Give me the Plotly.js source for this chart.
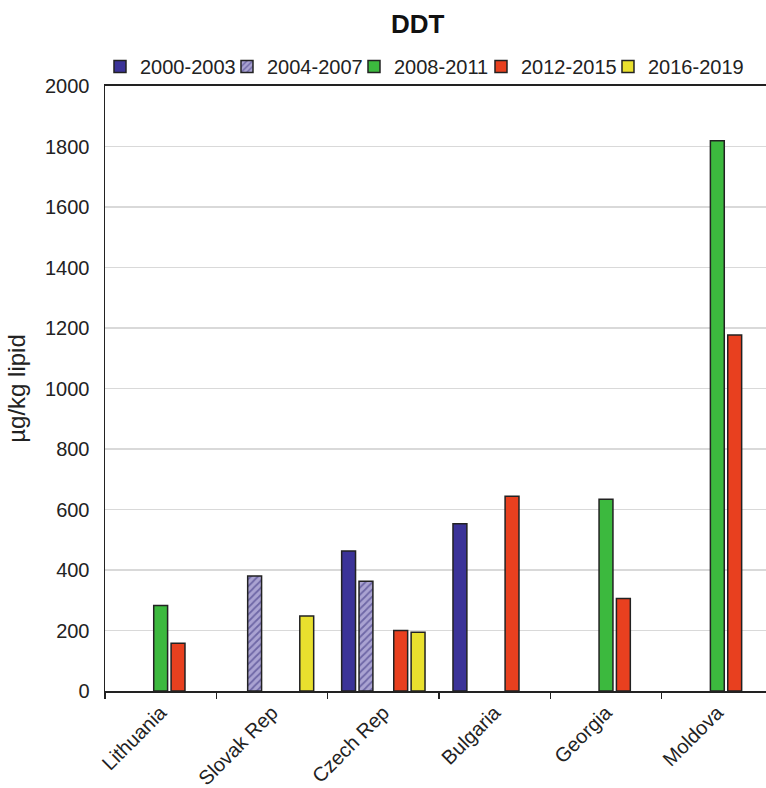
<!DOCTYPE html>
<html>
<head>
<meta charset="utf-8">
<script src="https://cdn.plot.ly/plotly-3.0.1.min.js"></script>
<style>
html,body{margin:0;padding:0;overflow:hidden;background:#fff;}
#chart{width:775px;height:788px;}
</style>
</head>
<body>
<div id="chart"></div>
<script>
const countries = ["Lithuania", "Slovak Rep", "Czech Rep", "Bulgaria", "Georgia", "Moldova"];
const seriesNames = ["2000-2003", "2004-2007", "2008-2011", "2012-2015", "2016-2019"];
const v2000_2003 = [null, null, 463, 553, null, null];
const v2004_2007 = [null, 380, 363, null, null, null];
const v2008_2011 = [283, null, null, null, 634, 1819];
const v2012_2015 = [158, null, 200, 644, 306, 1177];
const v2016_2019 = [null, 248, 194, null, null, null];
const yTicks = [0, 200, 400, 600, 800, 1000, 1200, 1400, 1600, 1800, 2000];

const colors = ["#3b3398", "#aaa3d2", "#3cb93e", "#e8401f", "#e9e02e"];
const values = [v2000_2003, v2004_2007, v2008_2011, v2012_2015, v2016_2019];

const traces = values.map((vals, i) => {
  const marker = {color: colors[i], line: {color: "#222", width: 1.5}};
  if (i === 1) {
    marker.pattern = {shape: "/", bgcolor: "#aaa3d2", fgcolor: "#6e67a6", size: 5, solidity: 0.35, fillmode: "replace"};
  }
  const t = {type: "bar", name: seriesNames[i], x: countries, y: vals, marker: marker, hoverinfo: "skip"};
  if (i === values.length - 1) t.legendwidth = 104;
  return t;
});

const layout = {
  width: 775, height: 788,
  margin: {l: 105, r: 2, t: 86, b: 97},
  paper_bgcolor: "#fff", plot_bgcolor: "#fff",
  font: {family: "Liberation Sans, Arial, sans-serif", size: 20, color: "#222"},
  barmode: "group", bargap: 0.22, bargroupgap: 0.2,
  title: {text: "<b>DDT</b>", font: {size: 26, color: "#111"}, x: 0.468, xref: "paper", xanchor: "center", y: 0.97, yanchor: "middle"},
  showlegend: true,
  legend: {orientation: "h", x: -0.0075, xanchor: "left", y: 1.0, yanchor: "bottom",
           font: {size: 20, color: "#222"}, itemwidth: 30, entrywidth: 82, entrywidthmode: "pixels",
           tracegroupgap: 0, bgcolor: "rgba(0,0,0,0)"},
  xaxis: {type: "category", tickson: "boundaries", ticks: "outside", ticklen: 6, tickwidth: 1.5, tickcolor: "#222",
          showline: true, linecolor: "#222", linewidth: 2, mirror: true, tickangle: -45,
          tickfont: {size: 20}, showgrid: false, range: [-0.5, 5.5]},
  yaxis: {range: [0, 2000], tickvals: yTicks, ticktext: yTicks.map(String), ticks: "", showline: true,
          linecolor: "#222", linewidth: 1.5, mirror: true, showgrid: true, gridcolor: "#d9d9d9", gridwidth: 1.5,
          tickfont: {size: 20}, ticklabelstandoff: 10, zeroline: false,
          title: {text: "µg/kg lipid", font: {size: 24}, standoff: 12}}
};

Plotly.newPlot("chart", traces, layout, {displayModeBar: false, staticPlot: true});
</script>
</body>
</html>
